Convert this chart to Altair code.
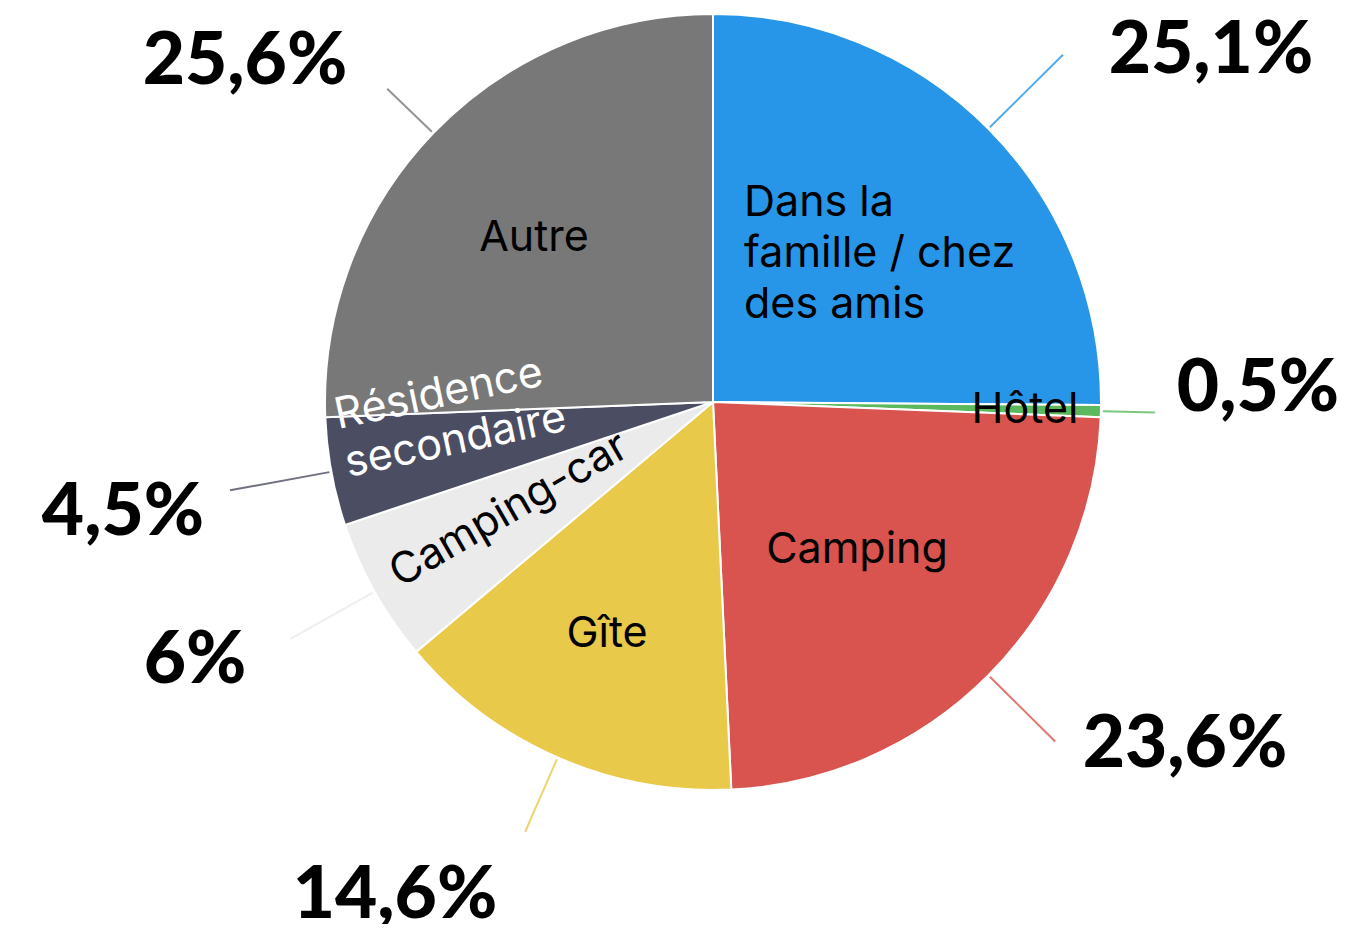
import math
import altair as alt
import pandas as pd

# ---- data ----
categories = ["Dans la famille / chez des amis", "Hôtel", "Camping", "Gîte",
              "Camping-car", "Résidence secondaire", "Autre"]
values = [25.1, 0.5, 23.6, 14.6, 6.0, 4.5, 25.6]
pct_labels = ["25,1%", "0,5%", "23,6%", "14,6%", "6%", "4,5%", "25,6%"]
colors = ["#2796E8", "#5CB85C", "#D9534F", "#E8C94A", "#EBEBEB", "#4B4D63", "#787878"]

# ---- layout ----
W, H = 1345, 916
CX, CY, R = 705, 394, 388
leader_out = [493, 442, 482, 469, 485, 491, 452]
# percentage label centres relative to pie centre (pixels)
lab_dx = [498, 545, 472, -318, -518, -590, -468]
lab_dy = [-355, -17, 339, 490, 255, 107, -344]

df = pd.DataFrame({"cat": categories, "value": values, "idx": range(len(values)),
                   "pct": pct_labels})
total = sum(values)
cum = 0.0
mids = []
for v in values:
    mids.append((cum + v / 2) / total * 2 * math.pi)
    cum += v
df["x1"] = [CX + (R + 2) * math.sin(a) for a in mids]
df["y1"] = [CY - (R + 2) * math.cos(a) for a in mids]
df["x2"] = [CX + r * math.sin(a) for a, r in zip(mids, leader_out)]
df["y2"] = [CY - r * math.cos(a) for a, r in zip(mids, leader_out)]
df["lx"] = [CX + d for d in lab_dx]
df["ly"] = [CY + d + 4 for d in lab_dy]

color_scale = alt.Scale(domain=categories, range=colors)

base = alt.Chart(df)

pie = base.mark_arc(outerRadius=R, stroke="white", strokeWidth=2).encode(
    theta=alt.Theta("value:Q", stack=True),
    color=alt.Color("cat:N", scale=color_scale, legend=None),
    order=alt.Order("idx:Q"),
    x=alt.value(CX), y=alt.value(CY),
)

leaders = base.mark_rule(strokeWidth=2, opacity=0.8).encode(
    x=alt.X("x1:Q", scale=None), y=alt.Y("y1:Q", scale=None),
    x2="x2:Q", y2="y2:Q",
    color=alt.Color("cat:N", scale=color_scale, legend=None),
)

pcts = base.mark_text(font="Lato", fontWeight=900, fontSize=73, color="black",
                      align="center", baseline="middle").encode(
    x=alt.X("lx:Q", scale=None), y=alt.Y("ly:Q", scale=None), text="pct:N")

INNER_FONT = "Inter"
FS = 43


def label(text, x, y, **kw):
    props = dict(font=INNER_FONT, fontSize=FS, color="black", align="center",
                 baseline="alphabetic", lineBreak="\n")
    props.update(kw)
    return alt.Chart(pd.DataFrame({"t": [text]})).mark_text(**props).encode(
        x=alt.value(x), y=alt.value(y), text="t:N")


inner = [
    label("Dans la\nfamille / chez\ndes amis", 736, 208, align="left", lineHeight=51),
    label("Hôtel", 1017, 415),
    label("Camping", 849, 555),
    label("Gîte", 599, 639),
    label("Autre", 526, 243),
    label("Camping-car", 501, 502, baseline="middle", angle=330),
    label("Résidence\nsecondaire", 330, 421, align="left", angle=348,
          color="white", lineHeight=49),
]

chart = alt.layer(pie, leaders, pcts, *inner).properties(
    width=W, height=H, padding=0,
    autosize=alt.AutoSizeParams(type="none"),
).configure_view(stroke=None)

chart.save("out.html", embed_options={"renderer": "svg", "actions": False})
